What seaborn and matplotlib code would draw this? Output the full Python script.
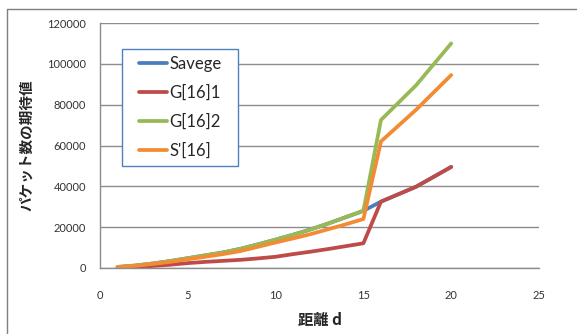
import matplotlib
matplotlib.use("Agg")
import matplotlib.pyplot as plt
from matplotlib.lines import Line2D
from matplotlib.patches import Rectangle
import pandas as pd
import seaborn as sns

# Distance values and expected packet counts per scheme
distance = [1, 2, 3, 4, 5, 6, 7, 8, 9, 10, 11, 12, 13, 14, 15, 16, 18, 20]
savege = [500, 1200, 2200, 3400, 4800, 6200, 7600, 9400, 11600, 13900, 16300, 18900, 21800, 24900, 28000,
          32500, 39800, 49500]
g16_1 = [150, 500, 1000, 1600, 2400, 3000, 3500, 4000, 4700, 5500, 6800, 8000, 9300, 10700, 12100,
         32500, 39800, 49500]
g16_2 = [500, 1200, 2200, 3400, 4800, 6200, 7600, 9400, 11600, 13900, 16300, 18900, 21800, 24900, 28000,
         72500, 89500, 110000]
s16 = [400, 1100, 2000, 3000, 4300, 5500, 6800, 8300, 10400, 12500, 14500, 16600, 19000, 21400, 24000,
       62000, 77500, 94500]

series_names = ["Savege", "G[16]1", "G[16]2", "S'[16]"]
series_values = [savege, g16_1, g16_2, s16]
colors = ["#4A7EBB", "#BE4B48", "#98B954", "#F38B35"]

x_ticks = [0, 5, 10, 15, 20, 25]
y_ticks = [0, 20000, 40000, 60000, 80000, 100000, 120000]

rows = []
for name, vals in zip(series_names, series_values):
    for d, v in zip(distance, vals):
        rows.append({"d": d, "value": v, "series": name})
df = pd.DataFrame(rows)

sns.set_style("white")
plt.rcParams["font.family"] = ["Lato", "Noto Sans CJK JP", "DejaVu Sans"]

W, H = 577, 334
fig = plt.figure(figsize=(W / 100, H / 100), dpi=100)
ax = fig.add_axes([100 / W, 1 - 268 / H, 439 / W, 245 / H])

sns.lineplot(data=df, x="d", y="value", hue="series", hue_order=series_names,
             palette=colors, linewidth=2.7, ax=ax, estimator=None, sort=True,
             legend=False)

ax.set_xlim(0, 25)
ax.set_ylim(0, 120000)
ax.set_xticks(x_ticks)
ax.set_yticks(y_ticks)
ax.set_xticklabels([str(t) for t in x_ticks])
ax.set_yticklabels([str(t) for t in y_ticks])

grid_col = "#8C8C8C"
ax.yaxis.grid(True, color=grid_col, linewidth=1)
ax.xaxis.grid(False)
ax.set_axisbelow(True)
for side in ("top", "right"):
    ax.spines[side].set_visible(False)
for side in ("left", "bottom"):
    ax.spines[side].set_color(grid_col)
    ax.spines[side].set_linewidth(1)
ax.tick_params(axis="both", which="major", direction="out", length=4, width=1,
               color=grid_col, labelsize=8, labelcolor="#333333")
ax.tick_params(axis="x", pad=12)
ax.tick_params(axis="y", pad=6)

ax.set_xlabel("距離 d", fontsize=11, fontweight="bold",
              family=["Noto Sans CJK JP", "DejaVu Sans"], labelpad=8)
ax.set_ylabel("パケット数の期待値", fontsize=10.5, fontweight="bold",
              family=["Noto Sans CJK JP", "DejaVu Sans"], labelpad=9)

# Legend box drawn as its own frame so its size can be set exactly
ax.add_patch(Rectangle((122 / W, 1 - 166 / H), 116 / W, 117 / H,
                       transform=fig.transFigure, facecolor="white",
                       edgecolor="#4F81BD", linewidth=1, zorder=4.5,
                       clip_on=False))
handles = [Line2D([0], [0], color=c, linewidth=2.7) for c in colors]
leg = ax.legend(handles, series_names, loc="upper left",
                bbox_to_anchor=(139 / W, 1 - 56 / H), bbox_transform=fig.transFigure,
                frameon=False, fontsize=12,
                handlelength=1.7, handletextpad=0.12, labelspacing=0.76,
                borderpad=0, borderaxespad=0)
leg.set_zorder(5)

# Outer chart-area border (left and top edges)
fx = 7.3 / W
fy = 1 - 9.3 / H
fig.add_artist(Line2D([fx, fx, 1.0], [0.0, fy, fy], transform=fig.transFigure,
                      color="#7F7F7F", linewidth=1))

fig.savefig("out.png", dpi=100)
